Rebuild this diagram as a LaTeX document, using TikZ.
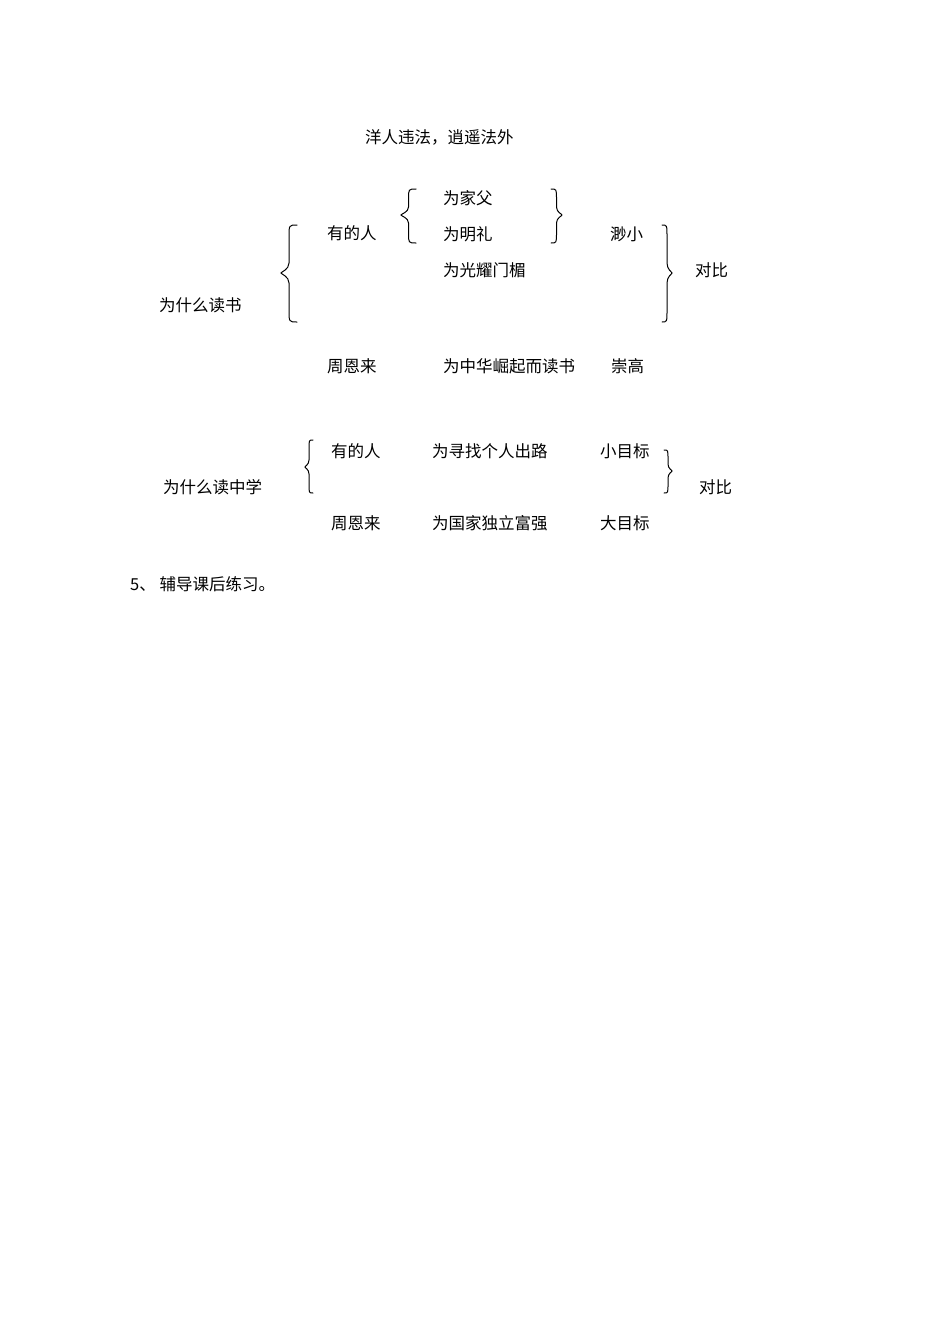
\documentclass[tikz,border=0pt]{standalone}
\usepackage{fontspec}
\newfontfamily\cjk{Noto Sans CJK SC}
\begin{document}
\begin{tikzpicture}[x=1pt,y=-1pt,
  lbl/.style={anchor=west,inner sep=0pt,font=\cjk\fontsize{16.5}{16.5}\selectfont},
  brc/.style={line width=1pt,black,line cap=round}]
\useasboundingbox[fill=white] (0,0) rectangle (950,1344);
% brace: tip x, end x, top y, tip y, bottom y, end radius, tip radius
\newcommand\lbrc[7]{%
  \pgfmathsetmacro\xm{(#1+#2)/2}%
  \draw[brc] (#2,#3) .. controls (\xm,#3) and (\xm,#3) .. (\xm,#3+#6) -- (\xm,#4-#7) .. controls (\xm,#4-#7/3) and (#1,#4-1) .. (#1,#4) .. controls (#1,#4+1) and (\xm,#4+#7/3) .. (\xm,#4+#7) -- (\xm,#5-#6) .. controls (\xm,#5) and (\xm,#5) .. (#2,#5);}
\node[lbl] (title) at (365,137) {洋人违法，逍遥法外};
% section 1
\node[lbl] (q1) at (159,305) {为什么读书};
\node[lbl] (s1) at (327,233) {有的人};
\node[lbl] (a1) at (443,198) {为家父};
\node[lbl] (a2) at (443,234) {为明礼};
\node[lbl] (a3) at (443,270) {为光耀门楣};
\node[lbl] (m1) at (610,234) {渺小};
\node[lbl] (c1) at (695,270) {对比};
\node[lbl] (z1) at (327,366) {周恩来};
\node[lbl] (z2) at (443,366) {为中华崛起而读书};
\node[lbl] (z3) at (611,366) {崇高};
\lbrc{281}{297}{225}{273}{322}{12}{10}
\lbrc{401}{416}{189}{215}{243}{10}{8}
\lbrc{562}{551}{189}{215}{243}{10}{8}
\lbrc{672}{662}{225}{273}{322}{12}{10}
% section 2
\node[lbl] (q2) at (163,487) {为什么读中学};
\node[lbl] (s2) at (331,451) {有的人};
\node[lbl] (b1) at (432,451) {为寻找个人出路};
\node[lbl] (g1) at (600,451) {小目标};
\node[lbl] (z4) at (331,523) {周恩来};
\node[lbl] (b2) at (432,523) {为国家独立富强};
\node[lbl] (g2) at (600,523) {大目标};
\node[lbl] (c2) at (699,487) {对比};
\lbrc{305}{313}{440}{467}{493}{9}{7}
\lbrc{672}{664}{450}{471}{493}{9}{7}
% item 5
\node[lbl] (n5) at (130,584) {5、 辅导课后练习。};
\end{tikzpicture}
\end{document}
